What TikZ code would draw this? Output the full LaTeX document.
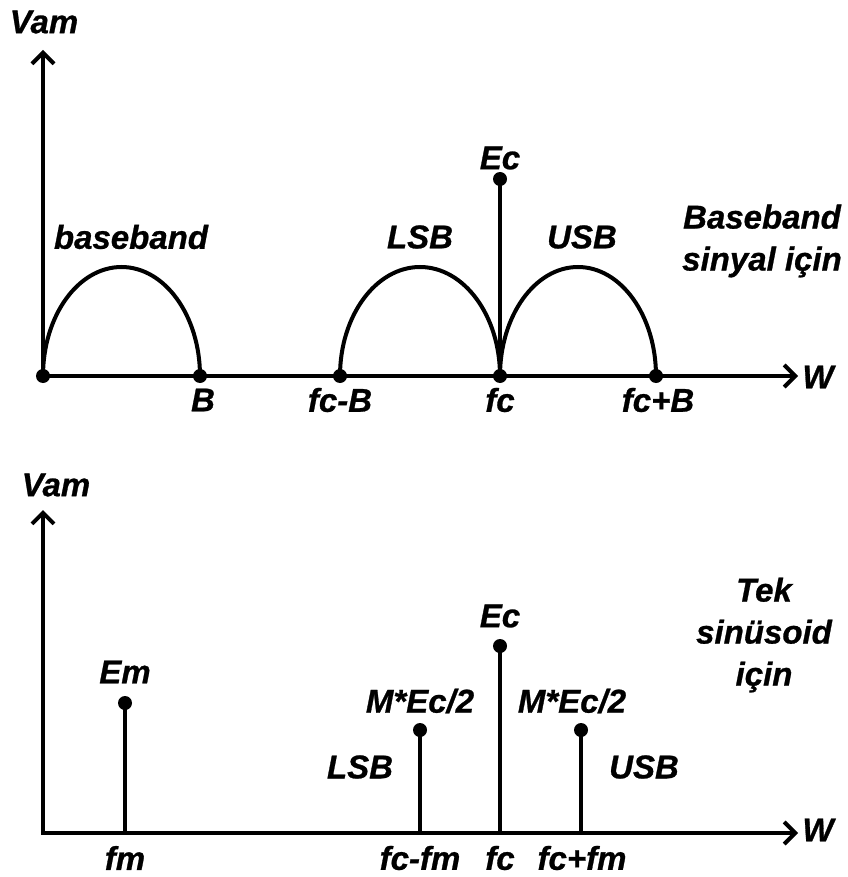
\documentclass[tikz,border=0pt]{standalone}
\usepackage{fontspec}
\setmainfont{Liberation Sans}[BoldItalicFeatures={FakeBold=0.8}]
\usetikzlibrary{arrows.meta}
\begin{document}
\begin{tikzpicture}[x=1pt,y=-1pt,
  lbl/.style={font=\fontsize{33}{42}\selectfont\bfseries\itshape, inner sep=0pt, align=center},
  dot/.style={circle, fill=black, inner sep=0pt, minimum size=14pt},
  ln/.style={line width=4pt},
  axis/.style={line width=4pt, -{Straight Barb[length=11pt,width=22pt,line width=4pt]}}]
\useasboundingbox (0,0) rectangle (847,877);
% ---------- top diagram ----------
\node[dot] (o1) at (43,376) {};
\coordinate (ytop1) at (43,50);
\coordinate (xend1) at (798,376);
\node[dot] (B) at (200,376) {};
\node[dot] (fcB) at (340,376) {};
\node[dot] (fc1) at (500,376) {};
\node[dot] (fcpB) at (656,376) {};
\node[dot] (Ec1) at (500,179) {};
\draw[axis] (o1.center) -- (ytop1);
\draw[axis] (o1.center) -- (xend1);
\draw[ln] (fc1.center) -- (Ec1.center);
\draw[ln] (o1.center) arc[start angle=180, end angle=0, x radius=78.5pt, y radius=109pt];
\draw[ln] (fcB.center) arc[start angle=180, end angle=0, x radius=80pt, y radius=109pt];
\draw[ln] (fc1.center) arc[start angle=180, end angle=0, x radius=78pt, y radius=109pt];
\node[lbl] (vam1) at (44,22) {Vam};
\node[lbl] (w1) at (818,377) {W};
\node[lbl] (lB) at (203,400) {B};
\node[lbl] (lfcB) at (340,400) {fc-B};
\node[lbl] (lfc1) at (500,400) {fc};
\node[lbl] (lfcpB) at (658,400) {fc+B};
\node[lbl] (lEc1) at (500,158) {Ec};
\node[lbl] (lbase) at (131,237) {baseband};
\node[lbl] (lLSB1) at (420,237) {LSB};
\node[lbl] (lUSB1) at (582,237) {USB};
\node[lbl] (note1) at (762,241) {Baseband\\sinyal için};
% ---------- bottom diagram ----------
\coordinate (o2) at (43,833);
\coordinate (ytop2) at (43,510);
\coordinate (xend2) at (798,833);
\coordinate (fm) at (125,833);
\coordinate (fcfm) at (420,833);
\coordinate (fc2) at (500,833);
\coordinate (fcpfm) at (581,833);
\node[dot] (Em) at (125,703) {};
\node[dot] (Ml) at (420,730) {};
\node[dot] (Ec2) at (500,646) {};
\node[dot] (Mr) at (581,730) {};
\draw[line width=4pt, line cap=rect, -{Straight Barb[length=11pt,width=22pt,line width=4pt]}] (o2) -- (ytop2);
\draw[axis] (o2) -- (xend2);
\draw[ln] (fm) -- (Em.center);
\draw[ln] (fcfm) -- (Ml.center);
\draw[ln] (fc2) -- (Ec2.center);
\draw[ln] (fcpfm) -- (Mr.center);
\node[lbl] (vam2) at (56,485) {Vam};
\node[lbl] (w2) at (818,830) {W};
\node[lbl] (lEm) at (125,672) {Em};
\node[lbl] (lEc2) at (500,616) {Ec};
\node[lbl] (lMl) at (420,701) {M*Ec/2};
\node[lbl] (lMr) at (572,701) {M*Ec/2};
\node[lbl] (lLSB2) at (360,767) {LSB};
\node[lbl] (lUSB2) at (644,767) {USB};
\node[lbl] (lfm) at (125,858) {fm};
\node[lbl] (lfcfm) at (420,858) {fc-fm};
\node[lbl] (lfc2) at (500,858) {fc};
\node[lbl] (lfcpfm) at (582,858) {fc+fm};
\node[lbl] (note2) at (764,635) {Tek\\sinüsoid\\için};
\end{tikzpicture}
\end{document}
